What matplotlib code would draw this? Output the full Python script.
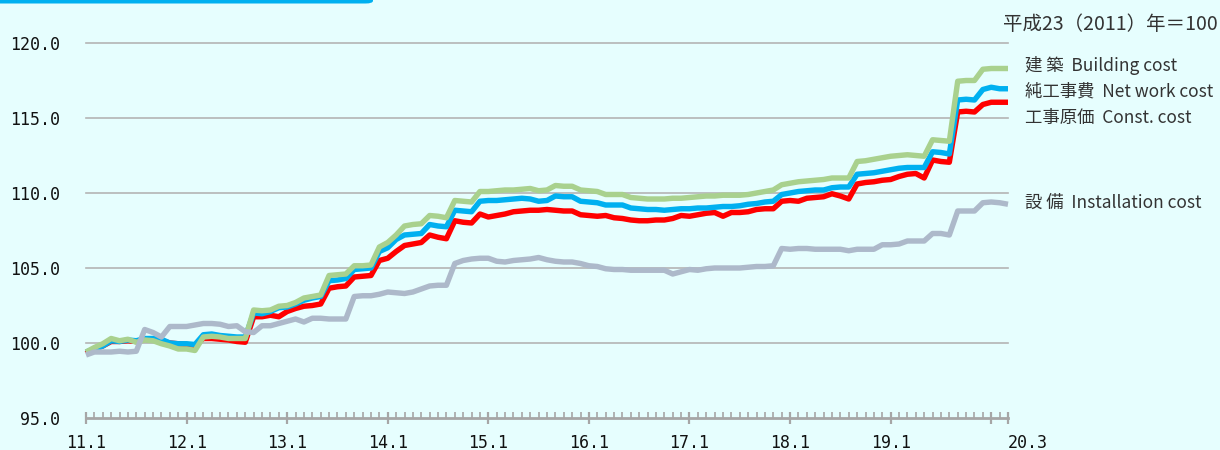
import matplotlib
matplotlib.use("Agg")
import matplotlib.pyplot as plt
from matplotlib.patches import FancyBboxPatch
import numpy as np

plt.rcParams['font.family'] = ['Noto Sans CJK JP', 'DejaVu Sans']

# Monthly index, 2011.1 .. 2020.3 (111 months)
building = [
    99.4, 99.7, 99.95, 100.3, 100.15, 100.25, 100.05, 100.2, 100.15, 99.95,
    99.8, 99.6, 99.6, 99.5, 100.4, 100.45, 100.4, 100.3, 100.3, 100.3,
    102.2, 102.15, 102.2, 102.45, 102.5, 102.7, 103.0, 103.1, 103.2, 104.5,
    104.55, 104.6, 105.15, 105.15, 105.2, 106.4, 106.7, 107.2, 107.8, 107.9,
    107.95, 108.5, 108.45, 108.35, 109.5, 109.45, 109.4, 110.1, 110.1, 110.15,
    110.2, 110.2, 110.25, 110.3, 110.15, 110.2, 110.5, 110.45, 110.45, 110.2,
    110.15, 110.1, 109.9, 109.9, 109.9, 109.7, 109.65, 109.6, 109.6, 109.6,
    109.65, 109.65, 109.7, 109.75, 109.8, 109.8, 109.85, 109.85, 109.85, 109.9,
    110.0, 110.1, 110.2, 110.55, 110.65, 110.75, 110.8, 110.85, 110.9, 111.0,
    111.0, 111.0, 112.1, 112.15, 112.25, 112.35, 112.45, 112.5, 112.55, 112.5,
    112.45, 113.55, 113.5, 113.45, 117.45, 117.5, 117.5, 118.25, 118.3, 118.3,
    118.3]
net_work = [
    99.4, 99.6, 99.8, 100.15, 100.1, 100.2, 100.15, 100.3, 100.3, 100.25,
    100.0, 99.95, 99.95, 99.9, 100.55, 100.6, 100.5, 100.45, 100.4, 100.4,
    102.0, 101.95, 102.1, 102.35, 102.4, 102.6, 102.85, 103.0, 103.1, 104.15,
    104.2, 104.3, 104.9, 104.95, 105.0, 106.1, 106.35, 106.9, 107.2, 107.25,
    107.3, 107.9, 107.8, 107.75, 108.85, 108.8, 108.75, 109.45, 109.5, 109.5,
    109.55, 109.6, 109.65, 109.6, 109.45, 109.5, 109.8, 109.75, 109.75, 109.45,
    109.4, 109.35, 109.2, 109.2, 109.2, 109.0, 108.95, 108.9, 108.9, 108.85,
    108.9, 108.95, 108.95, 109.0, 109.0, 109.05, 109.1, 109.1, 109.15, 109.25,
    109.3, 109.4, 109.45, 109.9, 110.0, 110.1, 110.15, 110.2, 110.2, 110.35,
    110.4, 110.4, 111.25, 111.3, 111.35, 111.45, 111.55, 111.65, 111.7, 111.7,
    111.7, 112.75, 112.7, 112.6, 116.2, 116.25, 116.2, 116.9, 117.05, 116.95,
    116.95]
const_cost = [
    99.3, 99.6, 99.8, 100.1, 100.1, 100.15, 100.1, 100.25, 100.2, 100.15,
    100.0, 99.95, 99.9, 99.85, 100.3, 100.3, 100.25, 100.2, 100.1, 100.05,
    101.75, 101.75, 101.85, 101.75, 102.1, 102.3, 102.45, 102.5, 102.6, 103.65,
    103.75, 103.8, 104.4, 104.45, 104.5, 105.5, 105.65, 106.1, 106.5, 106.6,
    106.7, 107.2, 107.05, 106.95, 108.15, 108.05, 108.0, 108.6, 108.4, 108.5,
    108.6, 108.75, 108.8, 108.85, 108.85, 108.9, 108.85, 108.8, 108.8, 108.55,
    108.5, 108.45, 108.5, 108.35, 108.3, 108.2, 108.15, 108.15, 108.2, 108.2,
    108.3, 108.5, 108.45, 108.55, 108.65, 108.7, 108.45, 108.7, 108.7, 108.75,
    108.9, 108.95, 108.95, 109.45, 109.5, 109.45, 109.65, 109.7, 109.75, 109.95,
    109.8, 109.6, 110.6, 110.7, 110.75, 110.85, 110.9, 111.1, 111.25, 111.3,
    111.0, 112.2, 112.1, 112.05, 115.4, 115.45, 115.4, 115.9, 116.05, 116.05,
    116.05]
installation = [
    99.2, 99.4, 99.4, 99.4, 99.45, 99.4, 99.45, 100.9, 100.7, 100.4,
    101.1, 101.1, 101.1, 101.2, 101.3, 101.3, 101.25, 101.1, 101.15, 100.75,
    100.7, 101.15, 101.15, 101.3, 101.45, 101.6, 101.4, 101.65, 101.65, 101.6,
    101.6, 101.6, 103.1, 103.15, 103.15, 103.25, 103.4, 103.35, 103.3, 103.4,
    103.6, 103.8, 103.85, 103.85, 105.3, 105.5, 105.6, 105.65, 105.65, 105.45,
    105.4, 105.5, 105.55, 105.6, 105.7, 105.55, 105.45, 105.4, 105.4, 105.3,
    105.15, 105.1, 104.95, 104.9, 104.9, 104.85, 104.85, 104.85, 104.85, 104.85,
    104.6, 104.75, 104.9, 104.85, 104.95, 105.0, 105.0, 105.0, 105.0, 105.05,
    105.1, 105.1, 105.15, 106.3, 106.25, 106.3, 106.3, 106.25, 106.25, 106.25,
    106.25, 106.15, 106.25, 106.25, 106.25, 106.55, 106.55, 106.6, 106.8, 106.8,
    106.8, 107.3, 107.3, 107.2, 108.8, 108.8, 108.8, 109.35, 109.4, 109.35,
    109.25]

x_tick_pos = [0, 12, 24, 36, 48, 60, 72, 84, 96, 108, 110]
x_tick_labels = ["11.1", "12.1", "13.1", "14.1", "15.1", "16.1", "17.1", "18.1", "19.1", "", "20.3"]
y_ticks = [95, 100, 105, 110, 115, 120]
y_tick_labels = ["95.0", "100.0", "105.0", "110.0", "115.0", "120.0"]

series_labels = ["建 築  Building cost", "純工事費  Net work cost",
                 "工事原価  Const. cost", "設 備  Installation cost"]
label_y_px = [65.7, 91.7, 118.3, 202.7]
title_text = "平成23（2011）年＝100"

BG = "#e6fefe"
W, H = 1220, 450
fig = plt.figure(figsize=(W / 100, H / 100), dpi=100, facecolor=BG)
ax = fig.add_axes([86 / W, 1 - 418 / H, (1008 - 86) / W, (418 - 43) / H])
ax.set_facecolor(BG)

months = np.arange(len(building))
lw = 3.9
ax.plot(months, const_cost, color="#ff0000", lw=lw, zorder=3, clip_on=False, solid_capstyle='butt')
ax.plot(months, net_work, color="#00b0f0", lw=lw, zorder=4, clip_on=False, solid_capstyle='butt')
ax.plot(months, building, color="#a9d18e", lw=lw, zorder=5, clip_on=False, solid_capstyle='butt')
ax.plot(months, installation, color="#adb9ca", lw=lw, zorder=6, clip_on=False, solid_capstyle='butt')

ax.set_xlim(0, 110)
ax.set_ylim(95, 120)

for v in y_ticks[1:]:
    ax.axhline(v, color="#b4b4b4", lw=1.2, zorder=1, clip_on=False)

for s in ["top", "right", "left"]:
    ax.spines[s].set_visible(False)
ax.spines["bottom"].set_color("#a6a6a6")
ax.spines["bottom"].set_linewidth(2)

ax.set_yticks(y_ticks)
ax.set_yticklabels(y_tick_labels, family="DejaVu Sans Mono", fontsize=12, color="#111111")
ax.tick_params(axis="y", length=0, pad=18.5)

ax.set_xticks(x_tick_pos)
ax.set_xticklabels(x_tick_labels, family="DejaVu Sans Mono", fontsize=12, color="#111111")
ax.set_xticks(np.arange(0, 111, 1), minor=True)
ax.tick_params(axis="x", which="major", direction="inout", length=9, width=1.6,
               color="#a6a6a6", pad=7)
ax.tick_params(axis="x", which="minor", direction="in", length=4, width=1.2,
               color="#a6a6a6")
for lbl in ax.get_xticklabels():
    if lbl.get_text() == "20.3":
        lbl.set_horizontalalignment("left")

for txt, ypx in zip(series_labels, label_y_px):
    fig.text(1025 / W, 1 - ypx / H, txt, fontsize=12.5, color="#333333", va="center", ha="left")

fig.text(1218 / W, 1 - 24 / H, title_text, fontsize=14, color="#333333", va="center", ha="right")

bar = FancyBboxPatch((-20 / W, 1 - 3.5 / H), (373 + 20) / W, 10 / H,
                     boxstyle="round,pad=0,rounding_size=0.006", transform=fig.transFigure,
                     facecolor="#00b0f0", edgecolor="none", clip_on=False)
fig.patches.append(bar)

fig.savefig("out.png", dpi=100, facecolor=BG)
